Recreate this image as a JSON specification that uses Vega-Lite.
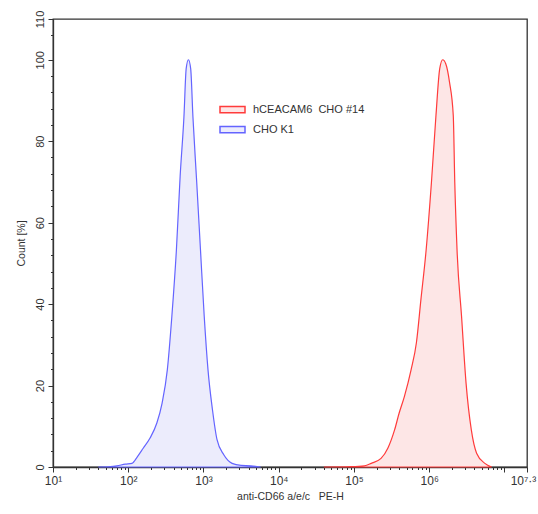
{
  "$schema": "https://vega.github.io/schema/vega-lite/v6.json",
  "width": 474,
  "height": 448,
  "autosize": "none",
  "padding": {"left": 53, "top": 19, "right": 11, "bottom": 47},
  "background": "white",
  "config": {
    "font": "Liberation Sans",
    "view": {"stroke": "#333", "strokeWidth": 1.3}
  },
  "data": {
    "values": [
      {"sample": "CHO K1", "intensity": 40, "count": 0},
      {"sample": "CHO K1", "intensity": 57.5, "count": 0.1},
      {"sample": "CHO K1", "intensity": 70.8, "count": 0.3},
      {"sample": "CHO K1", "intensity": 91.2, "count": 0.7},
      {"sample": "CHO K1", "intensity": 112, "count": 0.9},
      {"sample": "CHO K1", "intensity": 132, "count": 2.5},
      {"sample": "CHO K1", "intensity": 158, "count": 4.6},
      {"sample": "CHO K1", "intensity": 195, "count": 7.1},
      {"sample": "CHO K1", "intensity": 240, "count": 10.8},
      {"sample": "CHO K1", "intensity": 282, "count": 15.7},
      {"sample": "CHO K1", "intensity": 331, "count": 23.9},
      {"sample": "CHO K1", "intensity": 380, "count": 37},
      {"sample": "CHO K1", "intensity": 437, "count": 53.4},
      {"sample": "CHO K1", "intensity": 490, "count": 71.5},
      {"sample": "CHO K1", "intensity": 550, "count": 86},
      {"sample": "CHO K1", "intensity": 589, "count": 97.8},
      {"sample": "CHO K1", "intensity": 631, "count": 100},
      {"sample": "CHO K1", "intensity": 676, "count": 97.8},
      {"sample": "CHO K1", "intensity": 724, "count": 86},
      {"sample": "CHO K1", "intensity": 813, "count": 69.9},
      {"sample": "CHO K1", "intensity": 912, "count": 53.4},
      {"sample": "CHO K1", "intensity": 1023, "count": 37},
      {"sample": "CHO K1", "intensity": 1148, "count": 23.9},
      {"sample": "CHO K1", "intensity": 1318, "count": 14},
      {"sample": "CHO K1", "intensity": 1514, "count": 6.7},
      {"sample": "CHO K1", "intensity": 1862, "count": 3},
      {"sample": "CHO K1", "intensity": 2399, "count": 0.9},
      {"sample": "CHO K1", "intensity": 3162, "count": 0.4},
      {"sample": "CHO K1", "intensity": 4266, "count": 0.3},
      {"sample": "CHO K1", "intensity": 5754, "count": 0},
      {"sample": "hCEACAM6  CHO #14", "intensity": 39811, "count": 0},
      {"sample": "hCEACAM6  CHO #14", "intensity": 91201, "count": 0.1},
      {"sample": "hCEACAM6  CHO #14", "intensity": 138038, "count": 0.3},
      {"sample": "hCEACAM6  CHO #14", "intensity": 169824, "count": 0.9},
      {"sample": "hCEACAM6  CHO #14", "intensity": 229087, "count": 2.1},
      {"sample": "hCEACAM6  CHO #14", "intensity": 281838, "count": 4.6},
      {"sample": "hCEACAM6  CHO #14", "intensity": 346737, "count": 9.1},
      {"sample": "hCEACAM6  CHO #14", "intensity": 398107, "count": 13.2},
      {"sample": "hCEACAM6  CHO #14", "intensity": 467735, "count": 17.3},
      {"sample": "hCEACAM6  CHO #14", "intensity": 575440, "count": 23.9},
      {"sample": "hCEACAM6  CHO #14", "intensity": 676083, "count": 30.5},
      {"sample": "hCEACAM6  CHO #14", "intensity": 776247, "count": 41.1},
      {"sample": "hCEACAM6  CHO #14", "intensity": 912011, "count": 53.4},
      {"sample": "hCEACAM6  CHO #14", "intensity": 1071519, "count": 69.9},
      {"sample": "hCEACAM6  CHO #14", "intensity": 1230269, "count": 86.3},
      {"sample": "hCEACAM6  CHO #14", "intensity": 1380384, "count": 97.8},
      {"sample": "hCEACAM6  CHO #14", "intensity": 1513561, "count": 100},
      {"sample": "hCEACAM6  CHO #14", "intensity": 1659587, "count": 99},
      {"sample": "hCEACAM6  CHO #14", "intensity": 1862087, "count": 94.5},
      {"sample": "hCEACAM6  CHO #14", "intensity": 2089296, "count": 86.3},
      {"sample": "hCEACAM6  CHO #14", "intensity": 2187762, "count": 69.9},
      {"sample": "hCEACAM6  CHO #14", "intensity": 2344229, "count": 53.4},
      {"sample": "hCEACAM6  CHO #14", "intensity": 2691535, "count": 37},
      {"sample": "hCEACAM6  CHO #14", "intensity": 3090295, "count": 20.6},
      {"sample": "hCEACAM6  CHO #14", "intensity": 3630781, "count": 9.1},
      {"sample": "hCEACAM6  CHO #14", "intensity": 4265795, "count": 3.4},
      {"sample": "hCEACAM6  CHO #14", "intensity": 5495409, "count": 0.9},
      {"sample": "hCEACAM6  CHO #14", "intensity": 6760830, "count": 0}
    ]
  },
  "mark": {"type": "area", "interpolate": "monotone", "strokeWidth": 1.2, "fillOpacity": 1},
  "encoding": {
    "x": {
      "field": "intensity",
      "type": "quantitative",
      "scale": {"type": "log", "domain": [10, 19952623], "nice": false},
      "axis": {
        "values": [10, 20, 30, 40, 50, 60, 70, 80, 90, 100, 200, 300, 400, 500, 600, 700, 800, 900, 1000, 2000, 3000, 4000, 5000, 6000, 7000, 8000, 9000, 10000, 20000, 30000, 40000, 50000, 60000, 70000, 80000, 90000, 100000, 200000, 300000, 400000, 500000, 600000, 700000, 800000, 900000, 1000000, 2000000, 3000000, 4000000, 5000000, 6000000, 7000000, 8000000, 9000000, 10000000, 19952623],
        "labelExpr": "datum.value == 10 ? '10¹' : datum.value == 100 ? '10²' : datum.value == 1000 ? '10³' : datum.value == 10000 ? '10⁴' : datum.value == 100000 ? '10⁵' : datum.value == 1000000 ? '10⁶' : datum.value > 19000000 ? '10⁷·³' : ''",
        "labelOverlap": false,
        "labelFlush": false,
        "labelFontSize": 12,
        "labelColor": "#333",
        "labelPadding": 3,
        "labelOffset": {"condition": {"test": "datum.value > 19000000", "value": -4}, "value": 0},
        "grid": false,
        "domainColor": "#333",
        "domainWidth": 1.3,
        "tickColor": "#333",
        "tickSize": {"condition": {"test": "abs(log(datum.value)/LN10 - round(log(datum.value)/LN10)) < 0.001 || datum.value > 19000000", "value": 5}, "value": 2.5},
        "title": "anti-CD66 a/e/c\u00a0\u00a0 PE-H",
        "titleFontSize": 10.5,
        "titleFontWeight": "normal",
        "titleColor": "#333",
        "titlePadding": 5
      }
    },
    "y": {
      "field": "count",
      "type": "quantitative",
      "stack": null,
      "scale": {"domain": [0, 110], "nice": false},
      "axis": {
        "values": [0, 4, 8, 12, 16, 20, 24, 28, 32, 36, 40, 44, 48, 52, 56, 60, 64, 68, 72, 76, 80, 84, 88, 92, 96, 100, 106, 110],
        "labelExpr": "datum.value % 20 == 0 || datum.value == 110 ? datum.label : ''",
        "labelAngle": -90,
        "labelOverlap": false,
        "labelFlush": false,
        "labelFontSize": 11,
        "labelColor": "#333",
        "labelPadding": 3,
        "grid": false,
        "domainColor": "#333",
        "domainWidth": 1.3,
        "tickColor": "#333",
        "tickSize": {"condition": {"test": "datum.value % 20 == 0 || datum.value == 110", "value": 5}, "value": 2.5},
        "title": "Count [%]",
        "titleFontSize": 10.5,
        "titleFontWeight": "normal",
        "titleColor": "#333",
        "titlePadding": 8
      }
    },
    "fill": {
      "field": "sample",
      "type": "nominal",
      "scale": {"domain": ["hCEACAM6  CHO #14", "CHO K1"], "range": ["#fde6e6", "#ececfc"]},
      "legend": {
        "title": null,
        "orient": "none",
        "legendX": 166,
        "legendY": 77,
        "symbolType": "M-1,-0.25H1V0.25H-1Z",
        "symbolSize": 625,
        "symbolStrokeWidth": 1.5,
        "labelFontSize": 11,
        "labelColor": "#333",
        "labelOffset": 7,
        "rowPadding": -1,
        "labelExpr": "replace(datum.label, '  ', '\u00a0 ')"
      }
    },
    "stroke": {
      "field": "sample",
      "type": "nominal",
      "scale": {"domain": ["hCEACAM6  CHO #14", "CHO K1"], "range": ["#ff3b3b", "#6464ff"]},
      "legend": {
        "title": null,
        "orient": "none",
        "legendX": 166,
        "legendY": 77,
        "symbolType": "M-1,-0.25H1V0.25H-1Z",
        "symbolSize": 625,
        "symbolStrokeWidth": 1.5,
        "labelFontSize": 11,
        "labelColor": "#333",
        "labelOffset": 7,
        "rowPadding": -1,
        "labelExpr": "replace(datum.label, '  ', '\u00a0 ')"
      }
    }
  }
}
